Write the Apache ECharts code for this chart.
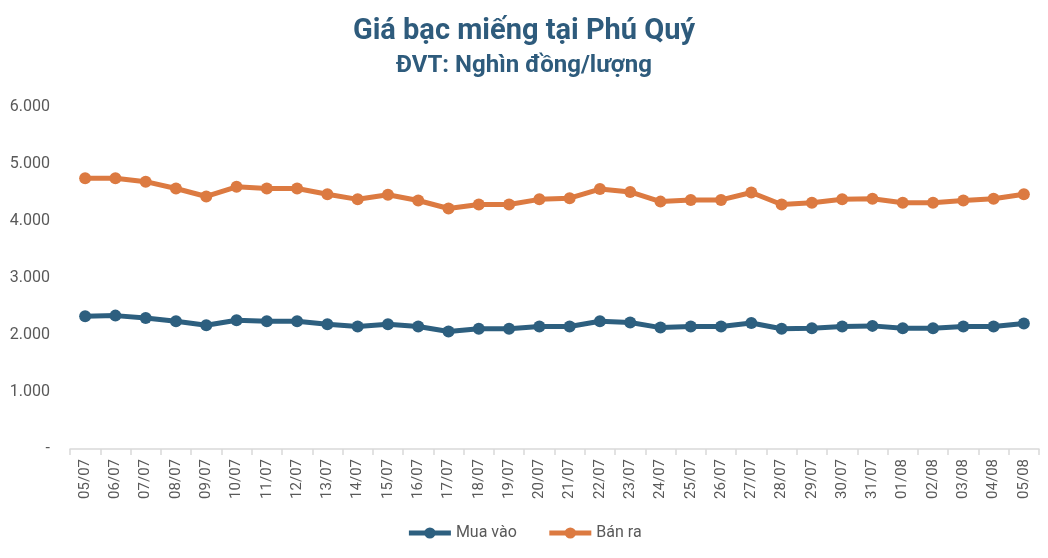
<!DOCTYPE html>
<html>
<head>
<meta charset="utf-8">
<script src="https://cdn.jsdelivr.net/npm/echarts@6/dist/echarts.min.js"></script>
<style>
  html, body { margin: 0; padding: 0; background: #fff; }
  #chart { width: 1048px; height: 558px; }
</style>
</head>
<body>
<div id="chart"></div>
<script>
// Ngày (dd/mm)
var days = ['05/07', '06/07', '07/07', '08/07', '09/07', '10/07', '11/07', '12/07',
  '13/07', '14/07', '15/07', '16/07', '17/07', '18/07', '19/07', '20/07',
  '21/07', '22/07', '23/07', '24/07', '25/07', '26/07', '27/07', '28/07',
  '29/07', '30/07', '31/07', '01/08', '02/08', '03/08', '04/08', '05/08'];

// Giá mua vào (nghìn đồng/lượng)
var muaVao = [2330, 2340, 2300, 2240, 2170, 2260, 2240, 2240,
  2190, 2150, 2190, 2150, 2060, 2110, 2110, 2150,
  2150, 2240, 2220, 2130, 2150, 2150, 2210, 2110,
  2120, 2150, 2160, 2120, 2120, 2150, 2150, 2200];

// Giá bán ra (nghìn đồng/lượng)
var banRa = [4750, 4750, 4690, 4570, 4430, 4600, 4570, 4570,
  4470, 4380, 4460, 4360, 4220, 4290, 4290, 4380,
  4400, 4560, 4510, 4340, 4370, 4370, 4500, 4290,
  4320, 4380, 4390, 4320, 4320, 4360, 4390, 4470];

var blue = '#2d5f7f';
var orange = '#dc7a41';
var fontName = 'Roboto, "Noto Sans", sans-serif';

var chart = echarts.init(document.getElementById('chart'));

function fmt(v) {
  if (v === 0) return '-';
  return String(v).replace(/\B(?=(\d{3})+(?!\d))/g, '.');
}

var option = {
  backgroundColor: '#fff',
  animation: false,
  title: {
    left: 'center',
    top: 12,
    text: 'Giá bạc miếng tại Phú Quý',
    subtext: 'ĐVT: Nghìn đồng/lượng',
    itemGap: 8,
    textStyle: { fontFamily: fontName, fontSize: 29, fontWeight: 'bold', color: '#2e5b7c' },
    subtextStyle: { fontFamily: fontName, fontSize: 24, fontWeight: 'bold', color: '#2e5b7c' }
  },
  legend: {
    bottom: 12,
    left: 'center',
    itemWidth: 42,
    itemHeight: 14,
    itemGap: 30,
    lineStyle: { width: 5 },
    textStyle: { fontFamily: fontName, fontSize: 16, color: '#595959' },
    data: ['Mua vào', 'Bán ra']
  },
  grid: {
    left: 70,
    right: 9,
    top: 107,
    bottom: 109,
    containLabel: false
  },
  xAxis: {
    type: 'category',
    data: days,
    boundaryGap: true,
    axisLine: { lineStyle: { color: '#d9d9d9', width: 1.5 } },
    axisTick: { show: true, length: 6, lineStyle: { color: '#d9d9d9', width: 1.5 } },
    axisLabel: {
      interval: 0,
      rotate: 90,
      margin: 10,
      fontFamily: fontName,
      fontSize: 15,
      color: '#595959'
    }
  },
  yAxis: {
    type: 'value',
    min: 0,
    max: 6000,
    interval: 1000,
    splitLine: { show: false },
    axisLine: { show: false },
    axisTick: { show: false },
    axisLabel: {
      margin: 20,
      fontFamily: fontName,
      fontSize: 16,
      color: '#595959',
      formatter: fmt
    }
  },
  series: [
    {
      name: 'Mua vào',
      type: 'line',
      data: muaVao,
      symbol: 'circle',
      symbolSize: 12,
      color: blue,
      lineStyle: { width: 5, color: blue },
      itemStyle: { color: blue }
    },
    {
      name: 'Bán ra',
      type: 'line',
      data: banRa,
      symbol: 'circle',
      symbolSize: 12,
      color: orange,
      lineStyle: { width: 5, color: orange },
      itemStyle: { color: orange }
    }
  ]
};

chart.setOption(option);
</script>
</body>
</html>
